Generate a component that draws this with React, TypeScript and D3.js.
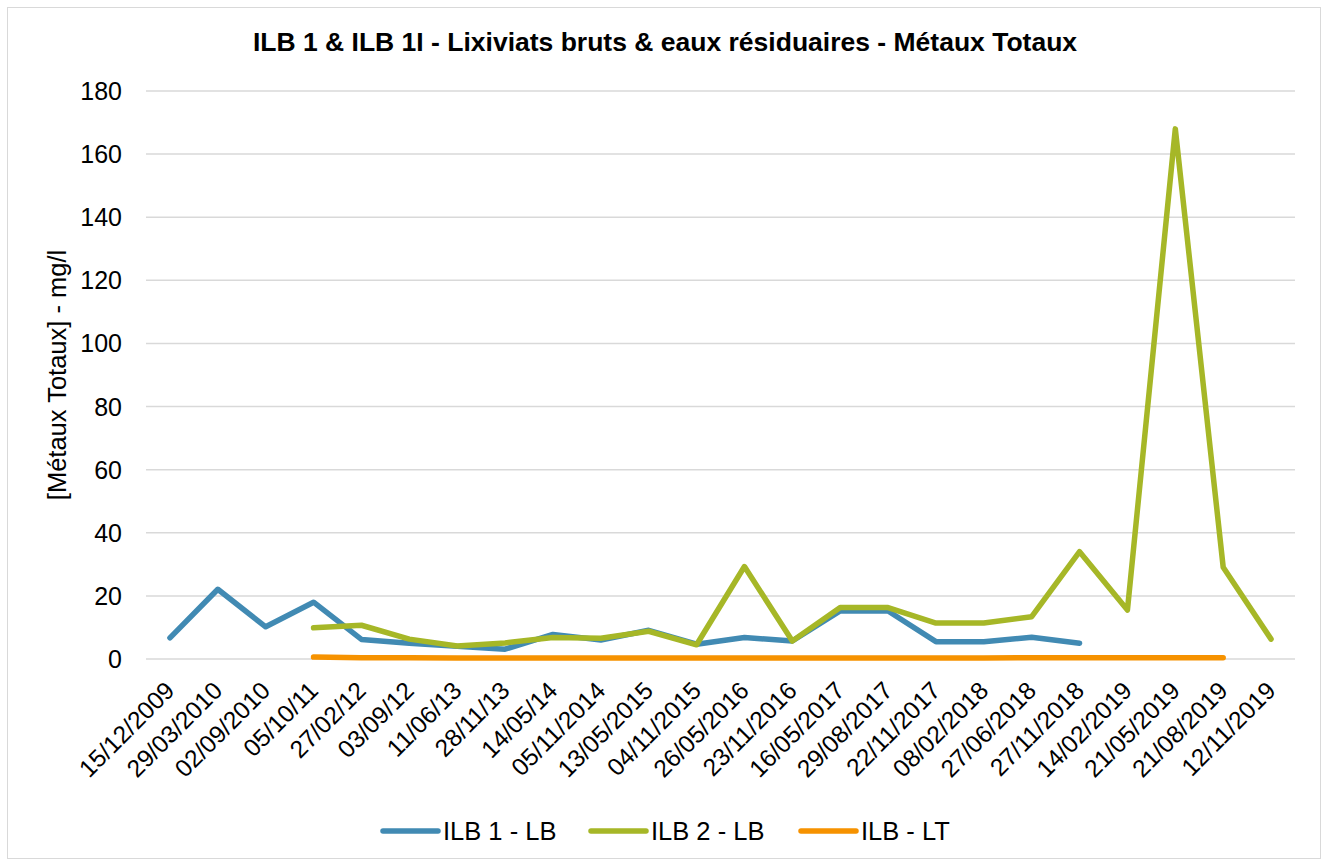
import React from "react";
import * as d3 from "d3";

const categories = ["15/12/2009","29/03/2010","02/09/2010","05/10/11","27/02/12","03/09/12","11/06/13","28/11/13","14/05/14","05/11/2014","13/05/2015","04/11/2015","26/05/2016","23/11/2016","16/05/2017","29/08/2017","22/11/2017","08/02/2018","27/06/2018","27/11/2018","14/02/2019","21/05/2019","21/08/2019","12/11/2019"];
const ilb1: (number | null)[] = [6.7,22.1,10.2,18.0,6.2,5.0,4.0,3.1,7.8,6.0,9.1,4.7,6.8,5.7,15.2,15.2,5.5,5.5,6.9,5.0,null,null,null,null];
const ilb2: (number | null)[] = [null,null,null,9.9,10.7,6.3,4.1,5.1,6.8,6.6,8.8,4.5,29.3,5.7,16.3,16.3,11.4,11.4,13.4,34.0,15.5,168.0,29.1,6.3];
const ilbLT: (number | null)[] = [null,null,null,0.6,0.4,0.4,0.3,0.3,0.3,0.3,0.3,0.3,0.3,0.3,0.3,0.3,0.3,0.3,0.4,0.4,0.4,0.4,0.4,null];
const yTicks = [0,20,40,60,80,100,120,140,160,180];

const series = [
  { name: "ILB 1 - LB", values: ilb1, color: "#418AB3" },
  { name: "ILB 2 - LB", values: ilb2, color: "#A6B727" },
  { name: "ILB - LT", values: ilbLT, color: "#F69200" },
];

export default function App() {
  const W = 1328, H = 866;
  const left = 146, right = 1295, top = 91, bottom = 659;
  const x = d3.scaleBand<string>().domain(categories).range([left, right]);
  const y = d3.scaleLinear().domain([0, 180]).range([bottom, top]);
  const cx = (c: string) => (x(c) as number) + x.bandwidth() / 2;
  const font = "Arial, 'Liberation Sans', sans-serif";
  const legendX = [383, 591, 801];

  return (
    <svg width={W} height={H} style={{ position: "absolute", left: 0, top: 0, background: "#fff" }} fontFamily={font}>
      <rect x={7.5} y={7.5} width={W - 15} height={H - 15} fill="#fff" stroke="#D9D9D9" strokeWidth={1} />
      <text x={665} y={51} textAnchor="middle" fontSize={26.5} fontWeight="bold" fill="#000">
        ILB 1 &amp; ILB 1I - Lixiviats bruts &amp; eaux résiduaires - Métaux Totaux
      </text>
      {yTicks.map((t) => (
        <g key={t}>
          <line x1={left} x2={right} y1={y(t)} y2={y(t)} stroke="#D9D9D9" strokeWidth={1.5} />
          <text x={122} y={y(t) + 9} textAnchor="end" fontSize={25} fill="#000">{t}</text>
        </g>
      ))}
      <text transform={`translate(66,${(top + bottom) / 2}) rotate(-90)`} textAnchor="middle" fontSize={25.5} fill="#000">
        [Métaux Totaux] - mg/l
      </text>
      {categories.map((c) => (
        <text key={c} transform={`translate(${cx(c) + 6},${692}) rotate(-45)`} textAnchor="end" fontSize={24.5} fill="#000">
          {c}
        </text>
      ))}
      {series.map((s) => {
        const line = d3
          .line<number | null>()
          .defined((d) => d !== null)
          .x((_, i) => cx(categories[i]))
          .y((d) => y(d as number));
        return (
          <path key={s.name} d={line(s.values) || ""} fill="none" stroke={s.color} strokeWidth={5.5} strokeLinejoin="round" strokeLinecap="round" />
        );
      })}
      {series.map((s, i) => (
        <g key={s.name}>
          <line x1={legendX[i]} x2={legendX[i] + 55} y1={831} y2={831} stroke={s.color} strokeWidth={5.5} strokeLinecap="round" />
          <text x={legendX[i] + 60} y={840} fontSize={25.5} fill="#000">{s.name}</text>
        </g>
      ))}
    </svg>
  );
}
